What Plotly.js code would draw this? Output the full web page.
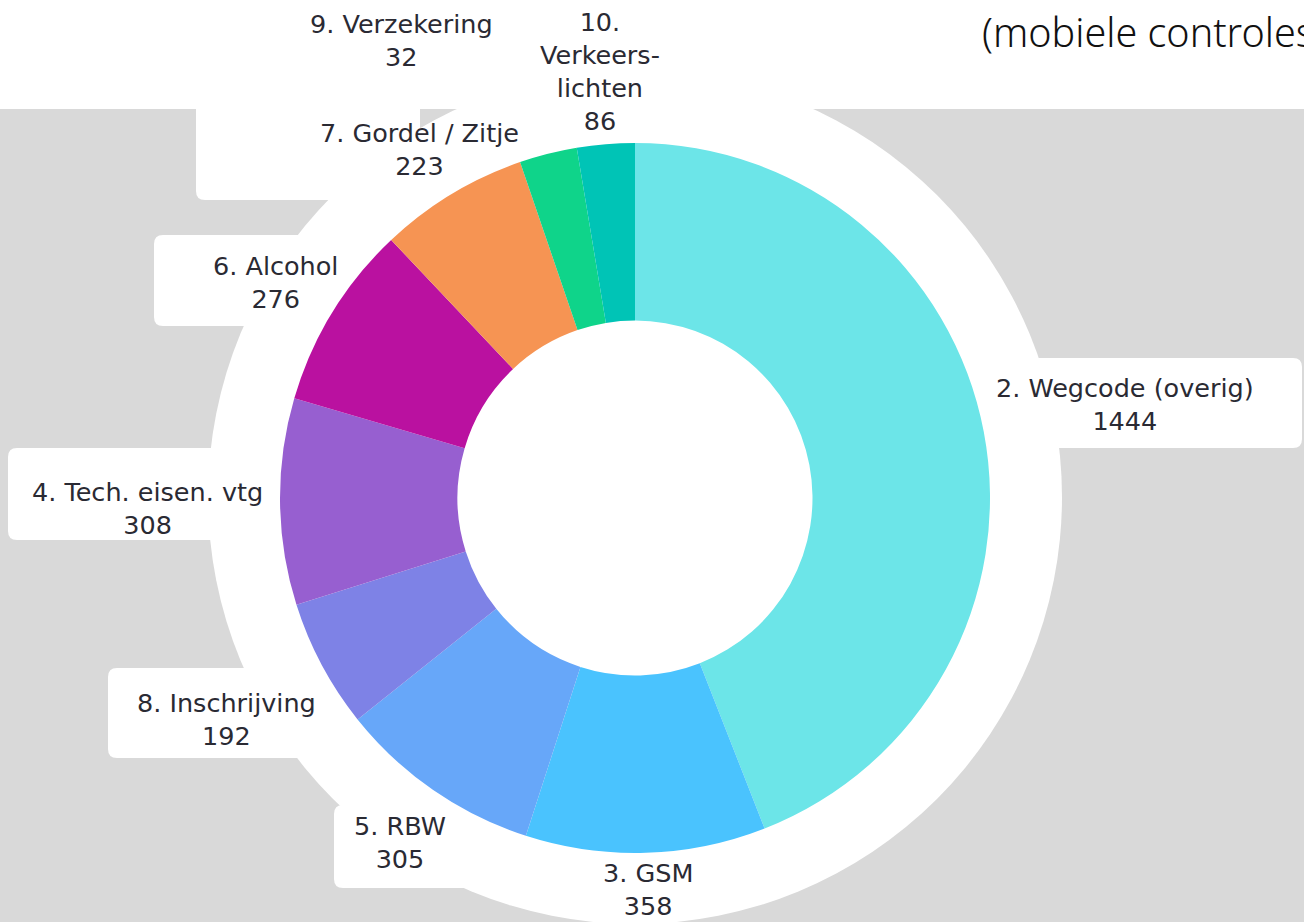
<!DOCTYPE html>
<html><head><meta charset="utf-8">
<script src="https://cdn.plot.ly/plotly-3.0.1.min.js"></script>
<style>html,body{margin:0;padding:0;overflow:hidden;background:#fff}</style>
</head><body><div id="chart" style="width:1304px;height:922px"></div>
<script>
// ---- data ----
const categories = ['2. Wegcode (overig)', '3. GSM', '5. RBW', '8. Inschrijving', '4. Tech. eisen. vtg', '6. Alcohol', '7. Gordel / Zitje', '9. Verzekering', '10. Verkeers-lichten'];
const labelText = ['2. Wegcode (overig)', '3. GSM', '5. RBW', '8. Inschrijving', '4. Tech. eisen. vtg', '6. Alcohol', '7. Gordel / Zitje', '9. Verzekering', '10.<br>Verkeers-<br>lichten'];
// slice sizes as drawn in the picture
const sliceValues = [1444, 358, 305, 192, 308, 276, 223, 86, 86];
// values printed in the labels
const shownValues = [1444, 358, 305, 192, 308, 276, 223, 32, 86];
const sliceColors = ['#6CE5E8', '#4AC3FE', '#67A7F9', '#7E82E6', '#975FD0', '#BA11A0', '#F69453', '#0FD48A', '#00C4B6'];
const titleText = '(mobiele controles)';

// ---- layout helpers (pixel -> paper) ----
const W = 1304, H = 922;
const fx = x => x / W;
const fy = y => 1 - y / H;

// label anchor positions (px, centre of text block)
const labelPos = [[1125, 405], [648, 889], [400, 842], [226, 719], [147, 508], [275, 282], [420, 149], [401, 41], [600, 72]];
// white label boxes (px)
const boxes = [[985, 358, 1302, 448], [8, 448, 300, 540], [108, 668, 340, 758], [334, 805, 500, 888], [154, 235, 320, 326], [196, 90, 420, 200]];

function roundRect(b, r) {
  const [x0, y0, x1, y1] = b;
  const p = (x, y) => fx(x) + ',' + fy(y);
  return 'M' + p(x0 + r, y0) + ' L' + p(x1 - r, y0) + ' Q' + p(x1, y0) + ' ' + p(x1, y0 + r) +
    ' L' + p(x1, y1 - r) + ' Q' + p(x1, y1) + ' ' + p(x1 - r, y1) +
    ' L' + p(x0 + r, y1) + ' Q' + p(x0, y1) + ' ' + p(x0, y1 - r) +
    ' L' + p(x0, y0 + r) + ' Q' + p(x0, y0) + ' ' + p(x0 + r, y0) + ' Z';
}

const cx = 635, cy = 498, R = 355;
const ringR = 427, ringCy = 497;

const shapes = [
  {type: 'rect', xref: 'paper', yref: 'paper', x0: 0, x1: 1, y0: 0, y1: fy(109), fillcolor: '#D9D9D9', line: {width: 0}, layer: 'below'},
  {type: 'circle', xref: 'paper', yref: 'paper', x0: fx(cx - ringR), x1: fx(cx + ringR), y0: fy(ringCy + ringR), y1: fy(ringCy - ringR), fillcolor: '#FFFFFF', line: {width: 0}, layer: 'below'}
].concat(boxes.map(b => ({type: 'path', xref: 'paper', yref: 'paper', path: roundRect(b, 9), fillcolor: '#FFFFFF', line: {width: 0}, layer: 'below'})));

const annotations = labelText.map((t, i) => ({
  xref: 'paper', yref: 'paper', x: fx(labelPos[i][0]), y: fy(labelPos[i][1]),
  xanchor: 'center', yanchor: 'middle', showarrow: false, align: 'center',
  text: t + '<br>' + shownValues[i],
  font: {family: 'DejaVu Sans, sans-serif', size: 25.5, color: '#2A2A33'}
}));
annotations.push({
  xref: 'paper', yref: 'paper', x: fx(980), y: fy(32), xanchor: 'left', yanchor: 'middle', showarrow: false,
  text: titleText, font: {family: 'Noto Sans, sans-serif', size: 39.5, color: '#111111', weight: 300}
});

const trace = {
  type: 'pie', labels: categories, values: sliceValues, sort: false, direction: 'clockwise', rotation: 0,
  hole: 0.5, textinfo: 'none', hoverinfo: 'label+value',
  marker: {colors: sliceColors, line: {width: 0}},
  domain: {x: [fx(cx - R), fx(cx + R)], y: [fy(cy + R), fy(cy - R)]},
  showlegend: false
};

Plotly.newPlot('chart', [trace], {
  width: W, height: H, margin: {l: 0, r: 0, t: 0, b: 0},
  paper_bgcolor: '#FFFFFF', showlegend: false, shapes: shapes, annotations: annotations
}, {displayModeBar: false, staticPlot: true});
</script></body></html>
